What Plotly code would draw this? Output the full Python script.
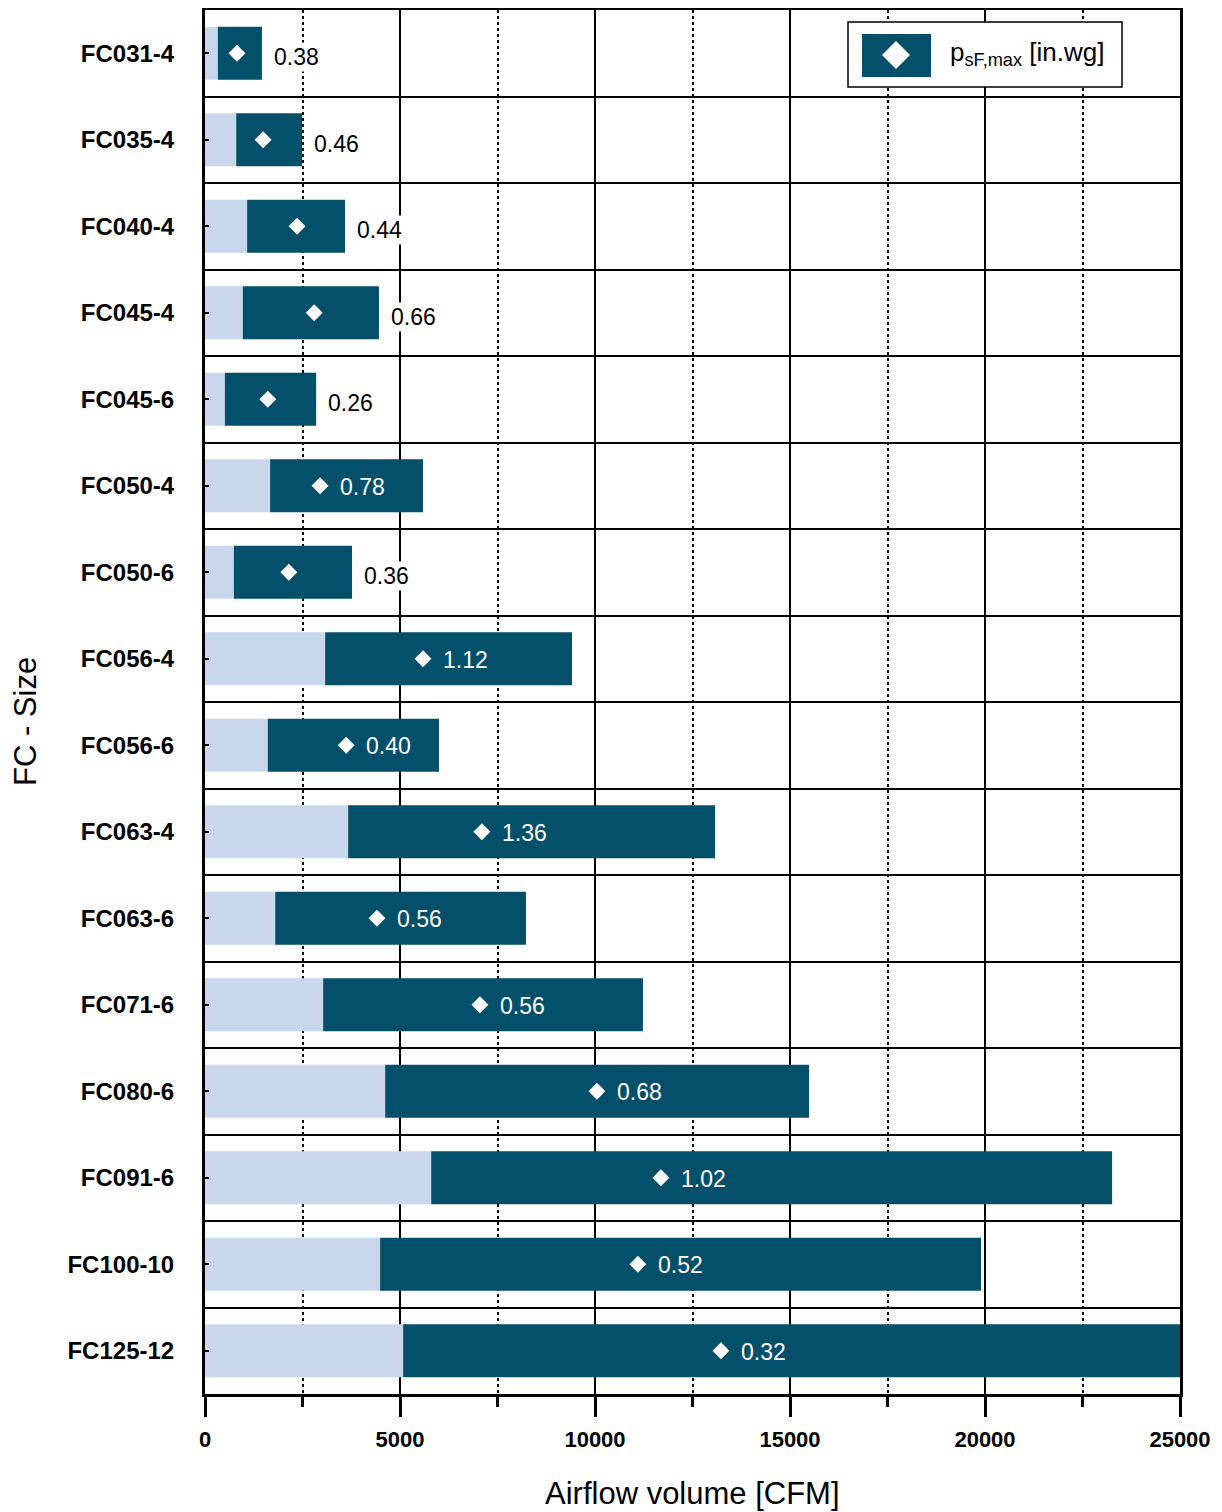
import plotly.graph_objects as go

# ---------------- data ----------------
categories = ["FC031-4", "FC035-4", "FC040-4", "FC045-4", "FC045-6", "FC050-4",
              "FC050-6", "FC056-4", "FC056-6", "FC063-4", "FC063-6", "FC071-6",
              "FC080-6", "FC091-6", "FC100-10", "FC125-12"]
airflow_min = [330, 800, 1080, 970, 510, 1670, 740, 3080, 1610, 3670, 1800, 3030,
               4620, 5800, 4490, 5080]
airflow_max = [1460, 2490, 3590, 4460, 2850, 5590, 3770, 9410, 6000, 13080, 8230,
               11230, 15490, 23260, 19900, 25000]
airflow_at_pmax = [820, 1490, 2360, 2800, 1610, 2950, 2150, 5590, 3620, 7100, 4410,
                   7050, 10050, 11690, 11100, 13230]
p_sf_max = ["0.38", "0.46", "0.44", "0.66", "0.26", "0.78", "0.36", "1.12", "0.40",
            "1.36", "0.56", "0.56", "0.68", "1.02", "0.52", "0.32"]
x_ticks = [0, 5000, 10000, 15000, 20000, 25000]

# ---------------- style ----------------
OFF = 8  # page body margin offset
W, H = 1222 - OFF, 1512 - OFF
ML, MR, MT, MB = 205 - OFF, 42, 10 - OFF, 118
PW, PH = W - ML - MR, H - MT - MB
X_MAX = 25000
DARK = "#04506A"
LIGHT = "#C8D7EC"
FONT = "Liberation Sans, Arial, sans-serif"


def px_x(px):
    return (px - OFF - ML) / PW


def px_y(py):
    return (MT + PH - (py - OFF)) / PH


ypos = list(range(len(categories)))
dark_len = [mx - mn for mn, mx in zip(airflow_min, airflow_max)]

fig = go.Figure()
fig.add_trace(go.Bar(y=ypos, x=airflow_min, orientation="h", marker_color=LIGHT,
                     marker_line_width=0, width=0.61, showlegend=False, hoverinfo="skip"))
fig.add_trace(go.Bar(y=ypos, x=dark_len, base=airflow_min, orientation="h",
                     marker_color=DARK, marker_line_width=0, width=0.61,
                     showlegend=False, hoverinfo="skip"))
fig.add_trace(go.Scatter(y=ypos, x=airflow_at_pmax, mode="markers",
                         marker=dict(symbol="diamond", size=13, color="white",
                                     line=dict(width=0)),
                         showlegend=False, hoverinfo="skip", cliponaxis=False))

# value labels
scale = PW / X_MAX
for i, (d, mx, t) in enumerate(zip(airflow_at_pmax, airflow_max, p_sf_max)):
    inside = d * scale + 21 + 50 <= mx * scale
    if inside:
        fig.add_annotation(x=d, y=i, text=t, showarrow=False, xanchor="left",
                           xshift=18, yshift=-1,
                           font=dict(family=FONT, size=23, color="white"))
    else:
        fig.add_annotation(x=mx, y=i, text=t, showarrow=False, xanchor="left",
                           xshift=10, yshift=-4, bgcolor="white", borderpad=1,
                           font=dict(family=FONT, size=23, color="black"))

# axis titles
fig.add_annotation(xref="paper", yref="paper", x=px_x(692), y=px_y(1493),
                   xanchor="center", yanchor="middle",
                   text="Airflow volume [CFM]", showarrow=False,
                   font=dict(family=FONT, size=31, color="black"))
fig.add_annotation(xref="paper", yref="paper", x=px_x(25), y=px_y(722),
                   xanchor="center", yanchor="middle",
                   text="FC - Size", showarrow=False, textangle=-90,
                   font=dict(family=FONT, size=31, color="black"))

# custom legend
fig.add_shape(type="rect", xref="paper", yref="paper",
              x0=px_x(848), x1=px_x(1122), y0=px_y(87), y1=px_y(22),
              line=dict(color="black", width=1.5), fillcolor="white")
fig.add_shape(type="rect", xref="paper", yref="paper",
              x0=px_x(862), x1=px_x(931), y0=px_y(77), y1=px_y(34),
              line=dict(width=0), fillcolor=DARK)
cx, cy, r = 896, 55, 14
fig.add_shape(type="path", xref="paper", yref="paper",
              path=(f"M {px_x(cx - r)} {px_y(cy)} L {px_x(cx)} {px_y(cy - r)} "
                    f"L {px_x(cx + r)} {px_y(cy)} L {px_x(cx)} {px_y(cy + r)} Z"),
              line=dict(width=0), fillcolor="white")
fig.add_annotation(xref="paper", yref="paper", x=px_x(948), y=px_y(54),
                   xanchor="left", yanchor="middle", showarrow=False,
                   text="p<sub>sF,max</sub> [in.wg]",
                   font=dict(family=FONT, size=26, color="black"))

fig.update_layout(
    width=W, height=H,
    margin=dict(l=ML, r=MR, t=MT, b=MB, autoexpand=False),
    barmode="overlay",
    plot_bgcolor="white", paper_bgcolor="white",
    font=dict(family=FONT, color="black"),
)
fig.update_xaxes(
    range=[0, X_MAX], tickvals=x_ticks, ticktext=[str(v) for v in x_ticks],
    tickfont=dict(family=FONT, size=22, color="black", weight="bold"),
    showline=True, linecolor="black", linewidth=3, mirror=True,
    ticks="outside", ticklen=20, tickwidth=3, tickcolor="black",
    ticklabelstandoff=4, automargin=False,
    showgrid=True, gridcolor="black", gridwidth=1.5, zeroline=False,
    minor=dict(tickmode="linear", tick0=2500, dtick=5000, showgrid=True,
               gridcolor="black", gridwidth=2, griddash="dot",
               ticks="outside", ticklen=10, tickwidth=3, tickcolor="black"),
)
fig.update_yaxes(
    range=[len(categories) - 0.5, -0.5], tickvals=ypos, ticktext=categories,
    tickfont=dict(family=FONT, size=24, color="black", weight="bold"),
    showline=True, linecolor="black", linewidth=3, mirror=True,
    ticks="inside", ticklen=4, tickwidth=2, tickcolor="black",
    ticklabelstandoff=23, automargin=False,
    showgrid=False, zeroline=False,
    minor=dict(tickmode="linear", tick0=0.5, dtick=1, showgrid=True,
               gridcolor="black", gridwidth=1.5, ticks=""),
)

fig.write_html("out.html")
